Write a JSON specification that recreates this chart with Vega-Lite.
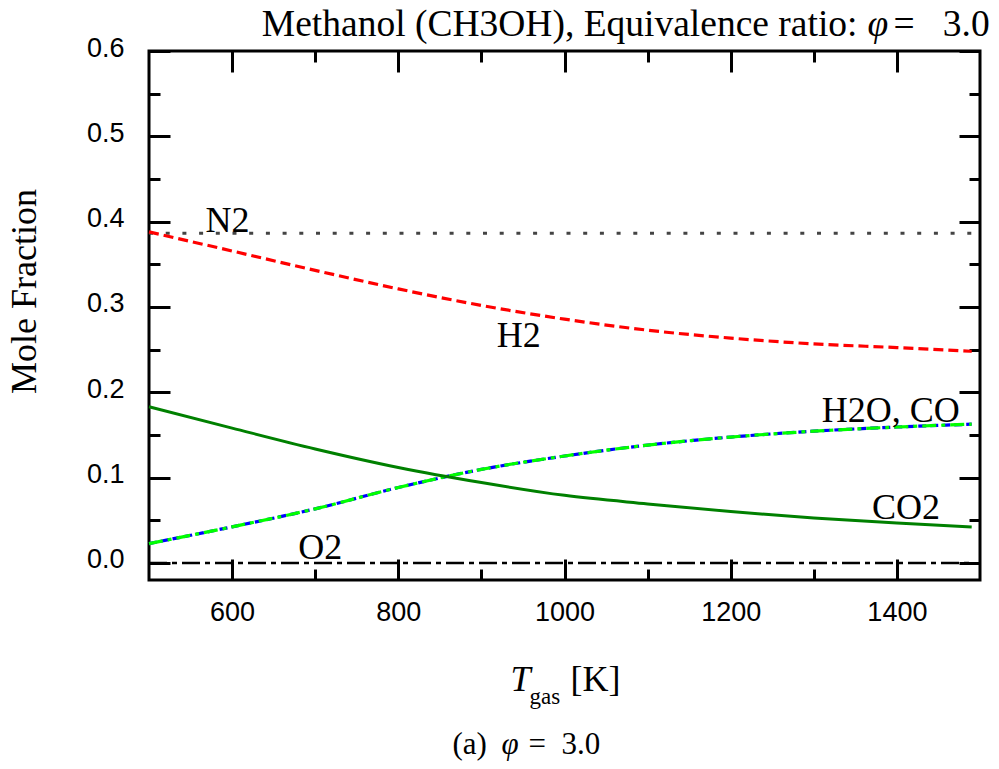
{
  "$schema": "https://vega.github.io/schema/vega-lite/v6.json",
  "width": 831,
  "height": 529,
  "autosize": {"type": "none"},
  "padding": {"left": 149, "top": 51, "right": 19, "bottom": 189},
  "background": "white",
  "config": {
    "view": {"stroke": "black", "strokeWidth": 3},
    "axis": {"grid": false, "domain": false, "tickColor": "black", "tickWidth": 3, "labelColor": "black", "titleColor": "black", "titleFontWeight": "normal", "titleFont": "Liberation Serif", "labelFlush": false, "labelOverlap": false, "labelBound": false}
  },
  "datasets": {
    "curves": [
      {"T": 500, "s": "N2", "v": 0.3863}, {"T": 600, "s": "N2", "v": 0.3863}, {"T": 700, "s": "N2", "v": 0.3863}, {"T": 800, "s": "N2", "v": 0.3863}, {"T": 900, "s": "N2", "v": 0.3863}, {"T": 1000, "s": "N2", "v": 0.3863}, {"T": 1100, "s": "N2", "v": 0.3863}, {"T": 1200, "s": "N2", "v": 0.3863}, {"T": 1300, "s": "N2", "v": 0.3863}, {"T": 1400, "s": "N2", "v": 0.3863}, {"T": 1490, "s": "N2", "v": 0.3863},
      {"T": 500, "s": "H2", "v": 0.388}, {"T": 600, "s": "H2", "v": 0.3656}, {"T": 700, "s": "H2", "v": 0.3429}, {"T": 800, "s": "H2", "v": 0.3212}, {"T": 900, "s": "H2", "v": 0.3018}, {"T": 1000, "s": "H2", "v": 0.2857}, {"T": 1100, "s": "H2", "v": 0.2728}, {"T": 1200, "s": "H2", "v": 0.2635}, {"T": 1300, "s": "H2", "v": 0.2567}, {"T": 1400, "s": "H2", "v": 0.2524}, {"T": 1490, "s": "H2", "v": 0.248},
      {"T": 500, "s": "CO", "v": 0.0227}, {"T": 600, "s": "CO", "v": 0.0423}, {"T": 700, "s": "CO", "v": 0.0634}, {"T": 800, "s": "CO", "v": 0.0884}, {"T": 900, "s": "CO", "v": 0.1096}, {"T": 1000, "s": "CO", "v": 0.1253}, {"T": 1100, "s": "CO", "v": 0.1381}, {"T": 1200, "s": "CO", "v": 0.1475}, {"T": 1300, "s": "CO", "v": 0.1544}, {"T": 1400, "s": "CO", "v": 0.1593}, {"T": 1490, "s": "CO", "v": 0.1626},
      {"T": 500, "s": "H2O", "v": 0.0227}, {"T": 600, "s": "H2O", "v": 0.0423}, {"T": 700, "s": "H2O", "v": 0.0634}, {"T": 800, "s": "H2O", "v": 0.0884}, {"T": 900, "s": "H2O", "v": 0.1096}, {"T": 1000, "s": "H2O", "v": 0.1253}, {"T": 1100, "s": "H2O", "v": 0.1381}, {"T": 1200, "s": "H2O", "v": 0.1475}, {"T": 1300, "s": "H2O", "v": 0.1544}, {"T": 1400, "s": "H2O", "v": 0.1593}, {"T": 1490, "s": "H2O", "v": 0.1626},
      {"T": 500, "s": "CO2", "v": 0.183}, {"T": 600, "s": "CO2", "v": 0.158}, {"T": 700, "s": "CO2", "v": 0.1336}, {"T": 800, "s": "CO2", "v": 0.1119}, {"T": 900, "s": "CO2", "v": 0.0942}, {"T": 1000, "s": "CO2", "v": 0.0792}, {"T": 1100, "s": "CO2", "v": 0.0692}, {"T": 1200, "s": "CO2", "v": 0.0602}, {"T": 1300, "s": "CO2", "v": 0.0527}, {"T": 1400, "s": "CO2", "v": 0.0467}, {"T": 1490, "s": "CO2", "v": 0.0422},
      {"T": 500, "s": "O2", "v": 0.0}, {"T": 600, "s": "O2", "v": 0.0}, {"T": 700, "s": "O2", "v": 0.0}, {"T": 800, "s": "O2", "v": 0.0}, {"T": 900, "s": "O2", "v": 0.0}, {"T": 1000, "s": "O2", "v": 0.0}, {"T": 1100, "s": "O2", "v": 0.0}, {"T": 1200, "s": "O2", "v": 0.0}, {"T": 1300, "s": "O2", "v": 0.0}, {"T": 1400, "s": "O2", "v": 0.0}, {"T": 1490, "s": "O2", "v": 0.0}
    ],
    "labels": [
      {"label": "N2", "T": 594.5, "v": 0.388},
      {"label": "H2", "T": 945, "v": 0.2533},
      {"label": "H2O, CO", "T": 1392.5, "v": 0.1653},
      {"label": "CO2", "T": 1411, "v": 0.052},
      {"label": "O2", "T": 706, "v": 0.005}
    ]
  },
  "layer": [
    {
      "data": {"name": "curves"},
      "transform": [{"filter": {"field": "s", "equal": "N2"}}],
      "mark": {"type": "line", "color": "#444444", "strokeWidth": 3, "strokeDash": [4, 12.7], "interpolate": "monotone"},
      "encoding": {
        "x": {"field": "T", "type": "quantitative", "scale": {"domain": [500, 1500], "nice": false, "zero": false},
          "axis": {"orient": "bottom", "values": [600, 700, 800, 900, 1000, 1100, 1200, 1300, 1400], "format": "d",
            "labelExpr": "datum.value % 200 === 0 ? datum.label : ''",
            "tickSize": {"condition": {"test": "datum.value % 200 === 0", "value": -21}, "value": -11},
            "labelFont": "Liberation Sans", "labelFontSize": 27, "labelPadding": 40, "labelBaseline": "top",
            "title": "T", "titleFontStyle": "italic", "titleFontSize": 36,
            "titleX": 361, "titleY": 110, "titleAlign": "left", "titleBaseline": "alphabetic", "titleAngle": 0}},
        "y": {"field": "v", "type": "quantitative", "scale": {"domain": [-0.02, 0.6], "nice": false, "zero": false},
          "axis": {"orient": "left", "values": [0, 0.05, 0.1, 0.15, 0.2, 0.25, 0.3, 0.35, 0.4, 0.45, 0.5, 0.55, 0.6],
            "labelExpr": "round(datum.value*100) % 10 === 0 ? format(datum.value, '.1f') : ''",
            "tickSize": {"condition": {"test": "round(datum.value*100) % 10 === 0", "value": -21}, "value": -11},
            "labelFont": "Liberation Sans", "labelFontSize": 27, "labelPadding": 46, "labelOffset": -3,
            "title": "Mole Fraction", "titleFontSize": 36,
            "titleX": -114, "titleY": 240, "titleAlign": "center", "titleBaseline": "alphabetic", "titleAngle": 270}}
      }
    },
    {
      "data": {"name": "curves"},
      "transform": [{"filter": {"field": "s", "equal": "H2"}}],
      "mark": {"type": "line", "color": "#ff0000", "strokeWidth": 3.2, "strokeDash": [10, 5], "interpolate": "monotone"},
      "encoding": {
        "x": {"field": "T", "type": "quantitative", "scale": {"domain": [500, 1500], "nice": false, "zero": false},
          "axis": {"orient": "top", "values": [600, 700, 800, 900, 1000, 1100, 1200, 1300, 1400],
            "tickSize": {"condition": {"test": "datum.value % 200 === 0", "value": -21}, "value": -11},
            "labels": false,
            "title": "Methanol (CH3OH), Equivalence ratio:", "titleFontSize": 37.5,
            "titleX": 708, "titleY": -16, "titleAlign": "right", "titleBaseline": "alphabetic", "titleAngle": 0}},
        "y": {"field": "v", "type": "quantitative", "scale": {"domain": [-0.02, 0.6], "nice": false, "zero": false},
          "axis": {"orient": "right", "values": [0, 0.05, 0.1, 0.15, 0.2, 0.25, 0.3, 0.35, 0.4, 0.45, 0.5, 0.55, 0.6],
            "tickSize": {"condition": {"test": "round(datum.value*100) % 10 === 0", "value": -21}, "value": -11},
            "labels": false, "title": null}}
      }
    },
    {
      "data": {"name": "curves"},
      "transform": [{"filter": {"field": "s", "equal": "CO"}}],
      "mark": {"type": "line", "color": "#0000ff", "strokeWidth": 3.2, "strokeDash": [8, 4], "interpolate": "monotone"},
      "encoding": {
        "x": {"field": "T", "type": "quantitative", "scale": {"domain": [500, 1500], "nice": false, "zero": false},
          "axis": {"orient": "bottom", "ticks": false, "labels": false,
            "title": "gas", "titleFontSize": 23,
            "titleX": 380, "titleY": 123, "titleAlign": "left", "titleBaseline": "alphabetic", "titleAngle": 0}},
        "y": {"field": "v", "type": "quantitative", "scale": {"domain": [-0.02, 0.6], "nice": false, "zero": false}, "axis": null}
      }
    },
    {
      "data": {"name": "curves"},
      "transform": [{"filter": {"field": "s", "equal": "H2O"}}],
      "mark": {"type": "line", "color": "#00ff00", "strokeWidth": 3.2, "strokeDash": [14, 5, 4, 5], "interpolate": "monotone"},
      "encoding": {
        "x": {"field": "T", "type": "quantitative", "scale": {"domain": [500, 1500], "nice": false, "zero": false},
          "axis": {"orient": "bottom", "ticks": false, "labels": false,
            "title": "[K]", "titleFontSize": 36,
            "titleX": 421, "titleY": 110, "titleAlign": "left", "titleBaseline": "alphabetic", "titleAngle": 0}},
        "y": {"field": "v", "type": "quantitative", "scale": {"domain": [-0.02, 0.6], "nice": false, "zero": false}, "axis": null}
      }
    },
    {
      "data": {"name": "curves"},
      "transform": [{"filter": {"field": "s", "equal": "CO2"}}],
      "mark": {"type": "line", "color": "#008000", "strokeWidth": 3, "interpolate": "monotone"},
      "encoding": {
        "x": {"field": "T", "type": "quantitative", "scale": {"domain": [500, 1500], "nice": false, "zero": false},
          "axis": {"orient": "bottom", "ticks": false, "labels": false,
            "title": "(a)", "titleFontSize": 31,
            "titleX": 303, "titleY": 173, "titleAlign": "left", "titleBaseline": "alphabetic", "titleAngle": 0}},
        "y": {"field": "v", "type": "quantitative", "scale": {"domain": [-0.02, 0.6], "nice": false, "zero": false}, "axis": null}
      }
    },
    {
      "data": {"name": "curves"},
      "transform": [{"filter": {"field": "s", "equal": "O2"}}],
      "mark": {"type": "line", "color": "#000000", "strokeWidth": 2.6, "strokeDash": [18, 5, 5, 5]},
      "encoding": {
        "x": {"field": "T", "type": "quantitative", "scale": {"domain": [500, 1500], "nice": false, "zero": false},
          "axis": {"orient": "bottom", "ticks": false, "labels": false,
            "title": "φ", "titleFontSize": 31, "titleFontStyle": "italic",
            "titleX": 352, "titleY": 173, "titleAlign": "left", "titleBaseline": "alphabetic", "titleAngle": 0}},
        "y": {"field": "v", "type": "quantitative", "scale": {"domain": [-0.02, 0.6], "nice": false, "zero": false}, "axis": null}
      }
    },
    {
      "data": {"name": "labels"},
      "transform": [{"filter": {"field": "label", "equal": "N2"}}],
      "mark": {"type": "text", "font": "Liberation Serif", "fontSize": 36, "color": "black", "align": "center", "baseline": "alphabetic"},
      "encoding": {
        "x": {"field": "T", "type": "quantitative", "scale": {"domain": [500, 1500], "nice": false, "zero": false},
          "axis": {"orient": "top", "ticks": false, "labels": false,
            "title": "φ", "titleFontSize": 37.5, "titleFontStyle": "italic",
            "titleX": 718, "titleY": -16, "titleAlign": "left", "titleBaseline": "alphabetic", "titleAngle": 0}},
        "y": {"field": "v", "type": "quantitative", "scale": {"domain": [-0.02, 0.6], "nice": false, "zero": false}, "axis": null},
        "text": {"field": "label"}
      }
    },
    {
      "data": {"name": "labels"},
      "transform": [{"filter": {"field": "label", "equal": "H2"}}],
      "mark": {"type": "text", "font": "Liberation Serif", "fontSize": 36, "color": "black", "align": "center", "baseline": "alphabetic"},
      "encoding": {
        "x": {"field": "T", "type": "quantitative", "scale": {"domain": [500, 1500], "nice": false, "zero": false},
          "axis": {"orient": "top", "ticks": false, "labels": false,
            "title": "=\u00a0\u00a0 3.0", "titleFontSize": 37.5,
            "titleX": 744, "titleY": -16, "titleAlign": "left", "titleBaseline": "alphabetic", "titleAngle": 0}},
        "y": {"field": "v", "type": "quantitative", "scale": {"domain": [-0.02, 0.6], "nice": false, "zero": false}, "axis": null},
        "text": {"field": "label"}
      }
    },
    {
      "data": {"name": "labels"},
      "transform": [{"filter": {"field": "label", "equal": "H2O, CO"}}],
      "mark": {"type": "text", "font": "Liberation Serif", "fontSize": 36, "color": "black", "align": "center", "baseline": "alphabetic"},
      "encoding": {
        "x": {"field": "T", "type": "quantitative", "scale": {"domain": [500, 1500], "nice": false, "zero": false},
          "axis": {"orient": "bottom", "ticks": false, "labels": false,
            "title": "=\u00a0 3.0", "titleFontSize": 31,
            "titleX": 379, "titleY": 173, "titleAlign": "left", "titleBaseline": "alphabetic", "titleAngle": 0}},
        "y": {"field": "v", "type": "quantitative", "scale": {"domain": [-0.02, 0.6], "nice": false, "zero": false}, "axis": null},
        "text": {"field": "label"}
      }
    },
    {
      "data": {"name": "labels"},
      "transform": [{"filter": {"field": "label", "oneOf": ["CO2", "O2"]}}],
      "mark": {"type": "text", "font": "Liberation Serif", "fontSize": 36, "color": "black", "align": "center", "baseline": "alphabetic"},
      "encoding": {
        "x": {"field": "T", "type": "quantitative", "scale": {"domain": [500, 1500], "nice": false, "zero": false}, "axis": null},
        "y": {"field": "v", "type": "quantitative", "scale": {"domain": [-0.02, 0.6], "nice": false, "zero": false}, "axis": null},
        "text": {"field": "label"}
      }
    }
  ],
  "resolve": {"axis": {"x": "independent", "y": "independent"}}
}
